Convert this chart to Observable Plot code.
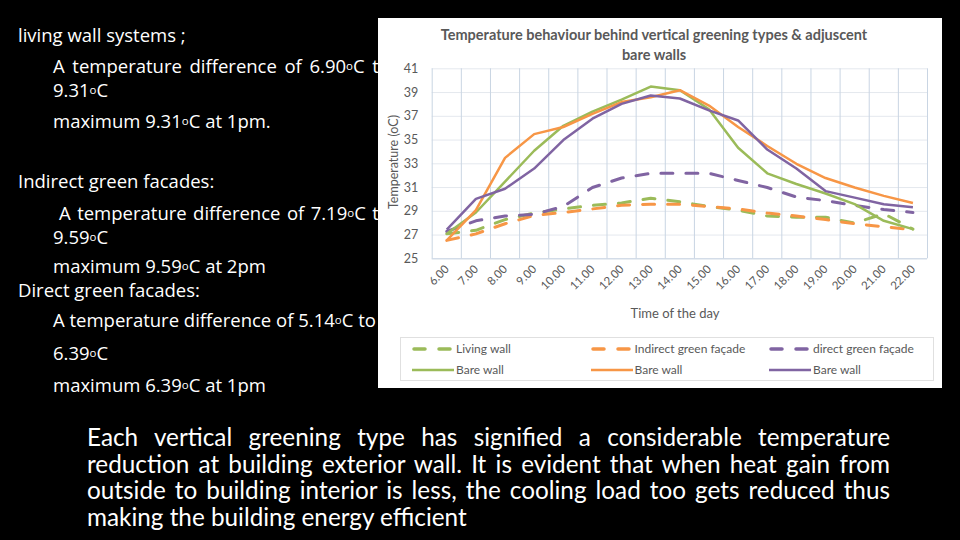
<!DOCTYPE html>
<html><head><meta charset="utf-8">
<script src="https://cdn.jsdelivr.net/npm/d3@7"></script>
<script src="https://cdn.jsdelivr.net/npm/@observablehq/plot@0.6"></script>
<style>
html,body{margin:0;padding:0;background:#000;width:960px;height:540px;overflow:hidden;}
#page{position:relative;width:960px;height:540px;background:#000;}
.lt{position:absolute;color:#fff;font-family:"Open Sans",sans-serif;font-size:18.5px;white-space:nowrap;line-height:20px;height:20px;}
.j{text-align:justify;text-align-last:justify;white-space:normal;overflow:visible;}
.deg{font-size:0.62em;vertical-align:0.3em;}
#chart{position:absolute;left:378px;top:18px;width:564px;height:370px;background:#fff;z-index:2;overflow:hidden;}
#title{position:absolute;left:0;top:7px;width:552px;text-align:center;font-family:Lato,sans-serif;font-size:14.5px;font-weight:700;color:#595959;line-height:20px;}
#plot{position:absolute;left:0;top:40px;}
#ylab{position:absolute;left:15px;top:144px;transform:translate(-50%,-50%) rotate(-90deg);font-family:Lato,sans-serif;font-size:12.5px;color:#595959;white-space:nowrap;}
#xlab{position:absolute;left:297px;top:295px;transform:translate(-50%,-50%);font-family:Lato,sans-serif;font-size:13px;color:#595959;white-space:nowrap;}
#legend{position:absolute;left:22px;top:319px;width:532px;height:42px;border:1px solid #e0e0e0;font-family:Lato,sans-serif;font-size:12px;color:#595959;}
.li{position:absolute;height:16px;line-height:16px;white-space:nowrap;}
.li svg{position:absolute;left:0;top:5px;}
.li span{position:absolute;left:44px;top:0;}
#para{position:absolute;left:87px;top:424px;width:803px;font-family:Lato,sans-serif;font-size:24.3px;color:#fff;line-height:26.7px;}
#para div{white-space:nowrap;height:26.7px;}
#para div.jj{text-align:justify;text-align-last:justify;white-space:normal;}
</style></head>
<body><div id="page">
<div class="lt" style="left:18px;top:25px">living wall systems ;</div>
<div class="lt j" style="left:53px;top:56px;width:337px">A temperature difference of 6.90<span class="deg">o</span>C to</div>
<div class="lt" style="left:53px;top:80px">9.31<span class="deg">o</span>C</div>
<div class="lt" style="left:53px;top:111px">maximum 9.31<span class="deg">o</span>C at 1pm.</div>
<div class="lt" style="left:18px;top:171px">Indirect green facades:</div>
<div class="lt j" style="left:59px;top:203px;width:331px">A temperature difference of 7.19<span class="deg">o</span>C to</div>
<div class="lt" style="left:53px;top:227px">9.59<span class="deg">o</span>C</div>
<div class="lt" style="left:53px;top:256px">maximum 9.59<span class="deg">o</span>C at 2pm</div>
<div class="lt" style="left:18px;top:280px">Direct green facades:</div>
<div class="lt" style="left:53px;top:310px">A temperature difference of 5.14<span class="deg">o</span>C to</div>
<div class="lt" style="left:53px;top:343px">6.39<span class="deg">o</span>C</div>
<div class="lt" style="left:53px;top:375px">maximum 6.39<span class="deg">o</span>C at 1pm</div>

<div id="chart">
  <div id="title">Temperature behaviour behind vertical greening types &amp; adjuscent<br>bare walls</div>
  <div id="plot"></div>
  <div id="ylab">Temperature (oC)</div>
  <div id="xlab">Time of the day</div>
  <div id="legend"></div>
</div>

<div id="para">
<div class="jj">Each vertical greening type has signified a considerable temperature</div>
<div class="jj">reduction at building exterior wall. It is evident that when heat gain from</div>
<div class="jj">outside to building interior is less, the cooling load too gets reduced thus</div>
<div>making the building energy efficient</div>
</div>
</div>
<script>
// ---- data ----
const hours = [6,7,8,9,10,11,12,13,14,15,16,17,18,19,20,21,22];
const tickLabels = ["6.00","7.00","8.00","9.00","10.00","11.00","12.00","13.00","14.00","15.00","16.00","17.00","18.00","19.00","20.00","21.00","22.00"];
const yTicks = [25,27,29,31,33,35,37,39,41];
const seriesNames = ["Living wall","Indirect green façade","direct green façade","Bare wall","Bare wall","Bare wall"];
const livingWall   = [27.1,27.4,28.3,28.85,29.2,29.5,29.7,30.1,29.8,29.4,29.1,28.6,28.5,28.5,28.0,28.8,27.5];
const indirectFacade = [26.55,27.1,27.95,28.65,28.9,29.2,29.5,29.6,29.6,29.4,29.2,28.85,28.6,28.3,27.95,27.7,27.45];
const directFacade = [27.3,28.2,28.6,28.75,29.4,31.0,31.8,32.2,32.2,32.2,31.6,31.0,30.2,29.9,29.5,29.15,28.9];
const bareLiving   = [27.1,28.9,31.5,34.1,36.2,37.4,38.4,39.5,39.2,37.6,34.35,32.2,31.3,30.5,29.6,28.2,27.5];
const bareIndirect = [26.55,29.1,33.5,35.5,36.1,37.2,38.2,38.6,39.2,37.9,36.1,34.5,33.0,31.8,31.0,30.3,29.7];
const bareDirect   = [27.45,30.05,30.9,32.6,35.0,36.8,38.05,38.75,38.5,37.5,36.65,34.2,32.6,30.7,30.15,29.6,29.35];

// ---- styling ----
const GREEN="#9BBB59", ORANGE="#F79646", PURPLE="#8064A2";
const series = [
  {name: seriesNames[0], values: livingWall, color: GREEN, dashed: true},
  {name: seriesNames[1], values: indirectFacade, color: ORANGE, dashed: true},
  {name: seriesNames[2], values: directFacade, color: PURPLE, dashed: true},
  {name: seriesNames[3], values: bareLiving, color: GREEN, dashed: false},
  {name: seriesNames[4], values: bareIndirect, color: ORANGE, dashed: false},
  {name: seriesNames[5], values: bareDirect, color: PURPLE, dashed: false}
];
const DASH = "12,13";
const bounds = hours.map(h => h - 0.5).concat([hours[hours.length-1] + 0.5]);

const chart = Plot.plot({
  width: 564, height: 272,
  marginLeft: 53.7, marginRight: 15, marginTop: 10.3, marginBottom: 71.7,
  style: {fontFamily: "Lato, sans-serif", color: "#595959", background: "transparent", overflow: "visible"},
  x: {type: "linear", domain: [bounds[0], bounds[bounds.length-1]], axis: null},
  y: {domain: [yTicks[0], yTicks[yTicks.length-1]]},
  marks: [
    Plot.gridY(yTicks, {stroke: "#e4e8ee", strokeOpacity: 1}),
    Plot.gridX(bounds, {stroke: "#c9d5e3", strokeOpacity: 1}),
    Plot.ruleY([yTicks[0]], {stroke: "#c9d5e3"}),
    Plot.axisY(yTicks, {tickSize: 0, tickPadding: 14, fontSize: 12.5, label: null}),
    Plot.text(hours, {x: d => d, frameAnchor: "bottom", text: d => tickLabels[hours.indexOf(d)],
      rotate: -45, textAnchor: "end", dx: 3, dy: 11, fontSize: 11.5, fill: "#595959"}),
    ...series.map(s => Plot.line(hours.map((h, i) => ({h, v: s.values[i]})), {
      x: "h", y: "v", stroke: s.color,
      strokeWidth: s.dashed ? 3 : 2.5,
      strokeDasharray: s.dashed ? DASH : null,
      strokeLinecap: s.dashed ? "round" : "butt",
      strokeLinejoin: "round"
    }))
  ]
});
document.getElementById("plot").appendChild(chart);

// legend (HTML)
const legend = document.getElementById("legend");
const colX = [11, 189.5, 368];
const rowY = [3, 24];
series.forEach((s, i) => {
  const col = i % 3, row = Math.floor(i / 3);
  const item = document.createElement("div");
  item.className = "li";
  item.style.left = colX[col] + "px";
  item.style.top = rowY[row] + "px";
  item.innerHTML = `<svg width="42" height="6"><line x1="${s.dashed?2:0}" y1="3" x2="${s.dashed?40:42}" y2="3" stroke="${s.color}" stroke-width="${s.dashed?3.5:2.5}" ${s.dashed?`stroke-dasharray="11,14" stroke-linecap="round"`:""}/></svg><span></span>`;
  item.querySelector("span").textContent = s.name;
  legend.appendChild(item);
});
</script>
</body></html>
